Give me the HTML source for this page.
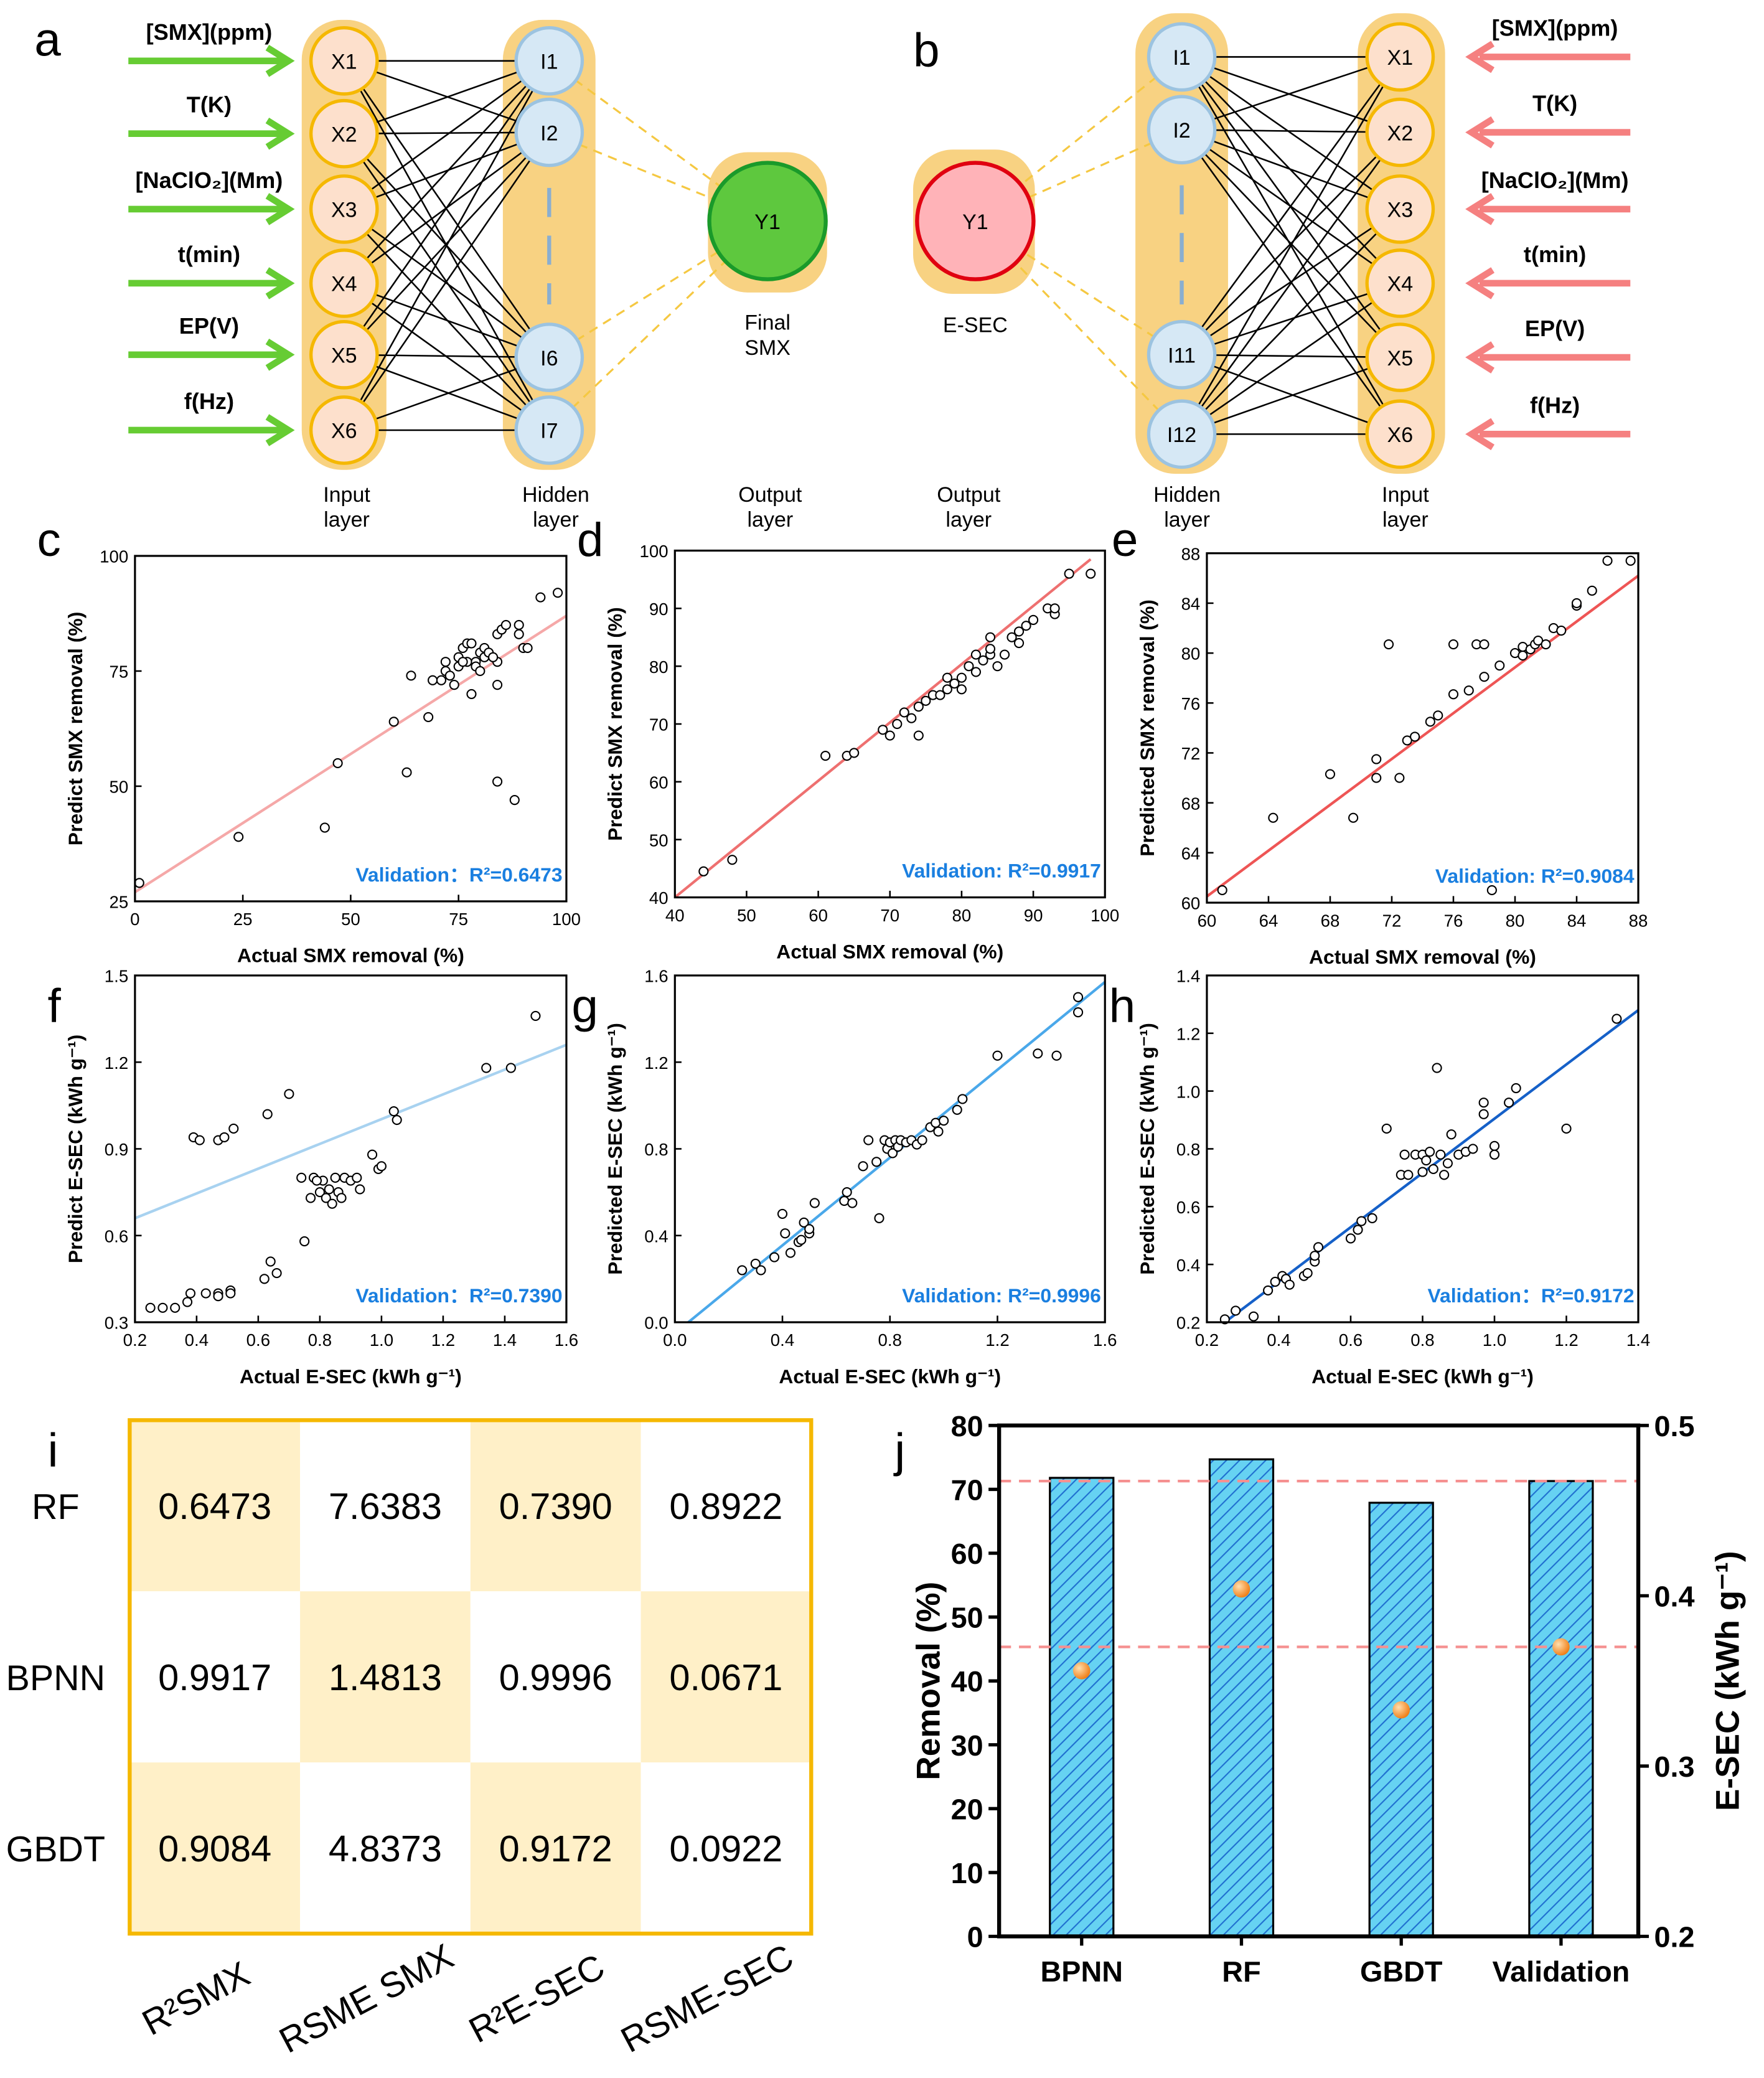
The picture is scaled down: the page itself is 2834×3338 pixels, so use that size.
<!DOCTYPE html>
<html><head><meta charset="utf-8"><style>
html,body{margin:0;padding:0;background:#fff}
svg{display:block}
text{font-family:"Liberation Sans",sans-serif}
</style></head><body>
<svg id="fig" xmlns="http://www.w3.org/2000/svg" width="2834" height="3338" viewBox="0 0 1333 1570" preserveAspectRatio="none">
<defs>
<pattern id="hatch" patternUnits="userSpaceOnUse" width="7" height="7" patternTransform="rotate(45)">
<rect width="7" height="7" fill="#66d2f2"/><line x1="0" y1="0" x2="0" y2="7" stroke="#1f6fd0" stroke-width="2"/>
</pattern>
<radialGradient id="dotg" cx="0.35" cy="0.35" r="0.7"><stop offset="0" stop-color="#ffe0b0"/><stop offset="1" stop-color="#f07a10"/></radialGradient>
</defs>
<g id="net"></g>
<g id="plots"></g>
<g id="table"></g>
<g id="barchart"></g>
</svg>
<script>
const NS="http://www.w3.org/2000/svg";
function mk(parent,tag,attrs,txt){const e=document.createElementNS(NS,tag);for(const k in attrs)e.setAttribute(k,attrs[k]);if(txt!==undefined)e.textContent=txt;parent.appendChild(e);return e;}
const net=document.getElementById('net');

/* ---------- Panels a & b ---------- */
const aInY=[46,101,158,214,268,325];
const aHidY=[46,100,270,325];
const aHidLbl=["I1","I2","I6","I7"];
const inputLabels=["[SMX](ppm)","T(K)","[NaClO₂](Mm)","t(min)","EP(V)","f(Hz)"];
const bInY=[43,100,158,214,270,328];
const bHidY=[43,98,268,328];
const bHidLbl=["I1","I2","I11","I12"];

function panelLetter(x,y,t){const e=mk(net,'text',{x:x,y:y,'font-size':36,fill:'#000'},t);}
panelLetter(26,42,'a');panelLetter(690,50,'b');

// panel a backgrounds
let r;
r=mk(net,'rect',{x:228,y:15,width:64,height:340,rx:30,fill:'#f8d282'});
r=mk(net,'rect',{x:380,y:15,width:70,height:340,rx:30,fill:'#f8d282'});
r=mk(net,'rect',{x:535,y:115,width:90,height:106,rx:30,fill:'#f8d282'});
aInY.forEach(y=>aHidY.forEach(h=>{const l=mk(net,'line',{x1:260,y1:y,x2:415,y2:h,stroke:'#000','stroke-width':1.2});}));
aHidY.forEach(h=>{const l=mk(net,'line',{x1:415,y1:h,x2:580,y2:167,stroke:'#f5c842','stroke-width':1.5,'stroke-dasharray':'7,5'});});
r=mk(net,'line',{x1:415,y1:142,x2:415,y2:230,stroke:'#8aaed0','stroke-width':3,'stroke-dasharray':'22,14'});
aInY.forEach((y,i)=>{
 const g=mk(net,'g',{});
 mk(g,'circle',{cx:260,cy:y,r:25,fill:'#fde0cc',stroke:'#f5b800','stroke-width':2.5});
 mk(g,'text',{x:260,y:y+6,'text-anchor':'middle','font-size':16},'X'+(i+1));
 const ar=mk(net,'g',{});
 mk(ar,'line',{x1:97,y1:y,x2:214,y2:y,stroke:'#66cc33','stroke-width':5});
 mk(ar,'polyline',{points:`202,${y-10} 218,${y} 202,${y+10}`,fill:'none',stroke:'#66cc33','stroke-width':5});
 const t=mk(net,'text',{x:158,y:y-16,'text-anchor':'middle','font-size':17,'font-weight':'bold','font-style':i==5?'normal':'normal'},inputLabels[i]);
});
aHidY.forEach((y,i)=>{const g=mk(net,'g',{});
 mk(g,'circle',{cx:415,cy:y,r:25,fill:'#d6e8f5',stroke:'#9cc3e0','stroke-width':2.5});
 mk(g,'text',{x:415,y:y+6,'text-anchor':'middle','font-size':16},aHidLbl[i]);});
r=mk(net,'g',{});
mk(r,'circle',{cx:580,cy:167,r:44,fill:'#5ec83e',stroke:'#1a9a2a','stroke-width':3});
mk(r,'text',{x:580,y:173,'text-anchor':'middle','font-size':16},'Y1');

// panel b backgrounds
r=mk(net,'rect',{x:690,y:113,width:92,height:109,rx:30,fill:'#f8d282'});
r=mk(net,'rect',{x:858,y:10,width:70,height:348,rx:30,fill:'#f8d282'});
r=mk(net,'rect',{x:1026,y:10,width:66,height:348,rx:30,fill:'#f8d282'});
bInY.forEach(y=>bHidY.forEach(h=>{const l=mk(net,'line',{x1:1058,y1:y,x2:893,y2:h,stroke:'#000','stroke-width':1.2});}));
bHidY.forEach(h=>{const l=mk(net,'line',{x1:893,y1:h,x2:737,y2:167,stroke:'#f5c842','stroke-width':1.5,'stroke-dasharray':'7,5'});});
r=mk(net,'line',{x1:893,y1:140,x2:893,y2:230,stroke:'#8aaed0','stroke-width':3,'stroke-dasharray':'22,14'});
bInY.forEach((y,i)=>{
 const g=mk(net,'g',{});
 mk(g,'circle',{cx:1058,cy:y,r:25,fill:'#fde0cc',stroke:'#f5b800','stroke-width':2.5});
 mk(g,'text',{x:1058,y:y+6,'text-anchor':'middle','font-size':16},'X'+(i+1));
 const ar=mk(net,'g',{});
 mk(ar,'line',{x1:1118,y1:y,x2:1232,y2:y,stroke:'#f58080','stroke-width':5});
 mk(ar,'polyline',{points:`1128,${y-10} 1112,${y} 1128,${y+10}`,fill:'none',stroke:'#f58080','stroke-width':5});
 const t=mk(net,'text',{x:1175,y:y-16,'text-anchor':'middle','font-size':17,'font-weight':'bold'},inputLabels[i]);
});
bHidY.forEach((y,i)=>{const g=mk(net,'g',{});
 mk(g,'circle',{cx:893,cy:y,r:25,fill:'#d6e8f5',stroke:'#9cc3e0','stroke-width':2.5});
 mk(g,'text',{x:893,y:y+6,'text-anchor':'middle','font-size':16},bHidLbl[i]);});
r=mk(net,'g',{});
mk(r,'circle',{cx:737,cy:167,r:44,fill:'#ffb3b8',stroke:'#e00010','stroke-width':3});
mk(r,'text',{x:737,y:173,'text-anchor':'middle','font-size':16},'Y1');

const layerLabels=[[262,'Input','layer'],[420,'Hidden','layer'],[582,'Output','layer'],[732,'Output','layer'],[897,'Hidden','layer'],[1062,'Input','layer']];
layerLabels.forEach((L,i)=>{const t=mk(net,'text',{x:L[0],y:379,'text-anchor':'middle','font-size':16});
 mk(t,'tspan',{x:L[0],dy:0},L[1]);mk(t,'tspan',{x:L[0],dy:19},L[2]);});
r=mk(net,'text',{x:580,y:249,'text-anchor':'middle','font-size':16});
mk(r,'tspan',{x:580,dy:0},'Final');mk(r,'tspan',{x:580,dy:19},'SMX');
r=mk(net,'text',{x:737,y:251,'text-anchor':'middle','font-size':16},'E-SEC');

/* ---------- Scatter panels c-h ---------- */
const cX=[1,24,44,47,60,63,64,68,69,71,72,72,73,74,75,75,76,77,77,78,78,79,79,80,80,81,81,82,84,84,84,85,86,84,88,89,89,90,91,94,98,76,83];
const cY=[29,39,41,55,64,53,74,65,73,73,75,77,74,72,76,78,80,77,81,81,70,77,76,79,75,80,78,79,72,77,83,84,85,51,47,83,85,80,80,91,92,77,78];
const dX=[44,48,61,64,65,69,70,71,72,73,74,74,75,76,77,78,78,79,80,80,81,82,82,83,84,84,84,85,86,87,88,88,89,90,92,93,93,95,98];
const dY=[44.5,46.5,64.5,64.5,65,69,68,70,72,71,68,73,74,75,75,76,78,77,78,76,80,82,79,81,82,83,85,80,82,85,84,86,87,88,90,89,90,96,96];
const eX=[61,64.3,68,69.5,71,71,71.8,72.5,73,73.5,74.5,75,76,76,77,77.5,78,78,78.5,79,80,80.5,80.5,81,81.3,81.5,82,82.5,83,84,84,85,86,87.5];
const eY=[61,66.8,70.3,66.8,71.5,70,80.7,70,73,73.3,74.5,75,76.7,80.7,77,80.7,80.7,78.1,61,79,80,80.5,79.8,80.3,80.7,81,80.7,82,81.8,83.8,84,85,87.4,87.4];
const fX=[0.25,0.29,0.33,0.37,0.38,0.43,0.47,0.47,0.51,0.51,0.39,0.41,0.47,0.49,0.52,0.63,0.7,0.62,0.64,0.66,0.75,0.74,0.77,0.78,0.8,0.81,0.82,0.83,0.84,0.85,0.86,0.87,0.88,0.9,0.92,0.93,0.97,0.99,1.0,1.04,1.05,1.34,1.42,1.5,0.79];
const fY=[0.35,0.35,0.35,0.37,0.40,0.40,0.40,0.39,0.41,0.40,0.94,0.93,0.93,0.94,0.97,1.02,1.09,0.45,0.51,0.47,0.58,0.80,0.73,0.80,0.75,0.79,0.73,0.76,0.71,0.80,0.75,0.73,0.80,0.79,0.80,0.76,0.88,0.83,0.84,1.03,1.0,1.18,1.18,1.36,0.79];
const gX=[0.25,0.3,0.32,0.37,0.4,0.41,0.43,0.46,0.47,0.48,0.5,0.5,0.52,0.63,0.64,0.66,0.7,0.72,0.75,0.76,0.78,0.79,0.8,0.81,0.82,0.83,0.84,0.86,0.88,0.9,0.92,0.95,0.97,0.98,1.0,1.05,1.07,1.2,1.35,1.42,1.5,1.5];
const gY=[0.24,0.27,0.24,0.3,0.5,0.41,0.32,0.37,0.38,0.46,0.41,0.43,0.55,0.56,0.6,0.55,0.72,0.84,0.74,0.48,0.84,0.8,0.83,0.78,0.84,0.81,0.84,0.83,0.84,0.82,0.84,0.9,0.92,0.88,0.93,0.98,1.03,1.23,1.24,1.23,1.43,1.5];
const hX=[0.25,0.28,0.33,0.37,0.39,0.41,0.42,0.43,0.47,0.48,0.5,0.51,0.5,0.6,0.62,0.63,0.66,0.7,0.74,0.75,0.76,0.78,0.8,0.8,0.81,0.82,0.83,0.84,0.85,0.86,0.87,0.88,0.9,0.92,0.94,0.97,0.97,1.0,1.0,1.04,1.06,1.2,1.34];
const hY=[0.21,0.24,0.22,0.31,0.34,0.36,0.35,0.33,0.36,0.37,0.41,0.46,0.43,0.49,0.52,0.55,0.56,0.87,0.71,0.78,0.71,0.78,0.72,0.78,0.76,0.79,0.73,1.08,0.78,0.71,0.75,0.85,0.78,0.79,0.8,0.92,0.96,0.81,0.78,0.96,1.01,0.87,1.25];
const xTicksC=[0,25,50,75,100], yTicksC=[25,50,75,100];
const xTicksD=[40,50,60,70,80,90,100], yTicksD=[40,50,60,70,80,90,100];
const xTicksE=[60,64,68,72,76,80,84,88], yTicksE=[60,64,68,72,76,80,84,88];
const xTicksF=[0.2,0.4,0.6,0.8,1.0,1.2,1.4,1.6], yTicksF=[0.3,0.6,0.9,1.2,1.5];
const xTicksG=[0.0,0.4,0.8,1.2,1.6], yTicksG=[0.0,0.4,0.8,1.2,1.6];
const xTicksH=[0.2,0.4,0.6,0.8,1.0,1.2,1.4], yTicksH=[0.2,0.4,0.6,0.8,1.0,1.2,1.4];
const fitC=[0,27,100,87], fitD=[40,40,98,98.5], fitE=[60,60.5,88,86.2];
const fitF=[0.2,0.66,1.6,1.26], fitG=[0.05,0,1.6,1.57], fitH=[0.25,0.2,1.4,1.28];
const r2Text=['Validation：R²=0.6473','Validation: R²=0.9917','Validation: R²=0.9084','Validation：R²=0.7390','Validation: R²=0.9996','Validation：R²=0.9172'];

const P=document.getElementById('plots');
const panels=[
 {id:'c',box:[102,420,428,681],xs:cX,ys:cY,xt:xTicksC,yt:yTicksC,fit:fitC,col:'#f5a8a8',xl:'Actual SMX removal (%)',yl:'Predict SMX removal (%)',r2:r2Text[0],dec:0,lp:[28,420]},
 {id:'d',box:[510,416,835,678],xs:dX,ys:dY,xt:xTicksD,yt:yTicksD,fit:fitD,col:'#ee7070',xl:'Actual SMX removal (%)',yl:'Predict SMX removal (%)',r2:r2Text[1],dec:0,lp:[436,420]},
 {id:'e',box:[912,418,1238,682],xs:eX,ys:eY,xt:xTicksE,yt:yTicksE,fit:fitE,col:'#ee5555',xl:'Actual SMX removal (%)',yl:'Predicted SMX removal (%)',r2:r2Text[2],dec:0,lp:[840,420]},
 {id:'f',box:[102,737,428,999],xs:fX,ys:fY,xt:xTicksF,yt:yTicksF,fit:fitF,col:'#a8d2f0',xl:'Actual E-SEC (kWh g⁻¹)',yl:'Predict E-SEC (kWh g⁻¹)',r2:r2Text[3],dec:1,lp:[36,772]},
 {id:'g',box:[510,737,835,999],xs:gX,ys:gY,xt:xTicksG,yt:yTicksG,fit:fitG,col:'#4aa8ea',xl:'Actual E-SEC (kWh g⁻¹)',yl:'Predicted E-SEC (kWh g⁻¹)',r2:r2Text[4],dec:1,lp:[432,772]},
 {id:'h',box:[912,737,1238,999],xs:hX,ys:hY,xt:xTicksH,yt:yTicksH,fit:fitH,col:'#1560c8',xl:'Actual E-SEC (kWh g⁻¹)',yl:'Predicted E-SEC (kWh g⁻¹)',r2:r2Text[5],dec:1,lp:[838,772]},
];
panels.forEach(p=>{
 const [x0,y0,x1,y1]=p.box;
 const xmin=p.xt[0],xmax=p.xt[p.xt.length-1],ymin=p.yt[0],ymax=p.yt[p.yt.length-1];
 const sx=v=>x0+(v-xmin)/(xmax-xmin)*(x1-x0);
 const sy=v=>y1-(v-ymin)/(ymax-ymin)*(y1-y0);
 const g=mk(P,'g',{});
 const lt=mk(g,'text',{x:p.lp[0],y:p.lp[1],'font-size':36},p.id);
 const fl=mk(g,'line',{x1:sx(p.fit[0]),y1:sy(p.fit[1]),x2:sx(p.fit[2]),y2:sy(p.fit[3]),stroke:p.col,'stroke-width':2});
 p.xs.forEach((v,i)=>{const c=mk(g,'circle',{cx:sx(v),cy:sy(p.ys[i]),r:3.3,fill:'#fff',stroke:'#000','stroke-width':1});});
 const fr=mk(g,'rect',{x:x0,y:y0,width:x1-x0,height:y1-y0,fill:'none',stroke:'#000','stroke-width':1.5});
 p.xt.forEach(v=>{mk(g,'line',{x1:sx(v),y1:y1,x2:sx(v),y2:y1-5,stroke:'#000','stroke-width':1.2});
  const t=mk(g,'text',{x:sx(v),y:y1+18,'text-anchor':'middle','font-size':13},p.dec?v.toFixed(1):v);});
 p.yt.forEach(v=>{mk(g,'line',{x1:x0,y1:sy(v),x2:x0+5,y2:sy(v),stroke:'#000','stroke-width':1.2});
  const t=mk(g,'text',{x:x0-5,y:sy(v)+5,'text-anchor':'end','font-size':13},p.dec?v.toFixed(1):v);});
 const xl=mk(g,'text',{x:(x0+x1)/2,y:y1+46,'text-anchor':'middle','font-size':15,'font-weight':'bold'},p.xl);
 const yl=mk(g,'text',{x:0,y:0,'text-anchor':'middle','font-size':15,'font-weight':'bold',transform:`translate(${x0-40},${(y0+y1)/2}) rotate(-90)`},p.yl);
 const rt=mk(g,'text',{x:x1-3,y:y1-15,'text-anchor':'end','font-size':15,'font-weight':'bold',fill:'#1a7fe0'},p.r2);
});

/* ---------- Panel i table ---------- */
const T=document.getElementById('table');
const rowNames=['RF','BPNN','GBDT'];
const colNames=['R²SMX','RSME SMX','R²E-SEC','RSME-SEC'];
const tableVals=[['0.6473','7.6383','0.7390','0.8922'],['0.9917','1.4813','0.9996','0.0671'],['0.9084','4.8373','0.9172','0.0922']];
r=mk(T,'text',{x:36,y:1108,'font-size':36},'i');
const tx0=98,ty0=1073,cw=128.75,rh=129.3;
tableVals.forEach((row,ri)=>row.forEach((v,ci)=>{
 const cell=mk(T,'g',{});
 mk(cell,'rect',{x:tx0+ci*cw,y:ty0+ri*rh,width:cw,height:rh,fill:((ri+ci)%2==0)?'#fff0c8':'#fff'});
 mk(cell,'text',{x:tx0+ci*cw+cw/2,y:ty0+ri*rh+rh/2+10,'text-anchor':'middle','font-size':28},v);
}));
r=mk(T,'rect',{x:tx0,y:ty0,width:cw*4,height:rh*3,fill:'none',stroke:'#f5b800','stroke-width':3});
rowNames.forEach((n,i)=>{const t=mk(T,'text',{x:42,y:ty0+i*rh+rh/2+10,'text-anchor':'middle','font-size':27},n);});
colNames.forEach((n,i)=>{const cx=tx0+i*cw+cw/2-10;const t=mk(T,'text',{x:0,y:0,'text-anchor':'middle','font-size':27,transform:`translate(${cx},${1518}) rotate(-28)`},n);});

/* ---------- Panel j bar chart ---------- */
const B=document.getElementById('barchart');
const models=['BPNN','RF','GBDT','Validation'];
const removal=[71.8,74.7,67.9,71.3];
const esec=[0.356,0.404,0.333,0.370];
const leftTicks=[0,10,20,30,40,50,60,70,80];
const rightTicks=[0.2,0.3,0.4,0.5];
const refRemoval=71.3, refEsec=0.370;
const jx0=755,jy0=1077,jx1=1238,jy1=1463;
const ly=v=>jy1-(v-0)/(80-0)*(jy1-jy0);
const ry=v=>jy1-(v-0.2)/(0.5-0.2)*(jy1-jy0);
const bx=i=>jx0+(i+0.5)*(jx1-jx0)/models.length+2;
r=mk(B,'text',{x:676,y:1108,'font-size':36},'j');
removal.forEach((v,i)=>{const b=mk(B,'rect',{x:bx(i)-24,y:ly(v),width:48,height:jy1-ly(v),fill:'url(#hatch)',stroke:'#000','stroke-width':1.5});});
r=mk(B,'line',{x1:jx0,y1:ly(refRemoval),x2:jx1,y2:ly(refRemoval),stroke:'#f59090','stroke-width':2,'stroke-dasharray':'9,6'});
r=mk(B,'line',{x1:jx0,y1:ry(refEsec),x2:jx1,y2:ry(refEsec),stroke:'#f59090','stroke-width':2,'stroke-dasharray':'9,6'});
esec.forEach((v,i)=>{const c=mk(B,'circle',{cx:bx(i),cy:ry(v),r:6.5,fill:'url(#dotg)'});});
r=mk(B,'rect',{x:jx0,y:jy0,width:jx1-jx0,height:jy1-jy0,fill:'none',stroke:'#000','stroke-width':3});
leftTicks.forEach(v=>{mk(B,'line',{x1:jx0,y1:ly(v),x2:jx0-8,y2:ly(v),stroke:'#000','stroke-width':2.5});
 const t=mk(B,'text',{x:jx0-12,y:ly(v)+8,'text-anchor':'end','font-size':22,'font-weight':'bold'},v);});
rightTicks.forEach(v=>{mk(B,'line',{x1:jx1,y1:ry(v),x2:jx1+8,y2:ry(v),stroke:'#000','stroke-width':2.5});
 const t=mk(B,'text',{x:jx1+12,y:ry(v)+8,'font-size':22,'font-weight':'bold'},v.toFixed(1));});
models.forEach((m,i)=>{mk(B,'line',{x1:bx(i),y1:jy1,x2:bx(i),y2:jy1+7,stroke:'#000','stroke-width':2.5});
 const t=mk(B,'text',{x:bx(i),y:jy1+34,'text-anchor':'middle','font-size':22,'font-weight':'bold'},m);});
r=mk(B,'text',{x:0,y:0,'text-anchor':'middle','font-size':25,'font-weight':'bold',transform:`translate(710,${(jy0+jy1)/2}) rotate(-90)`},'Removal (%)');
r=mk(B,'text',{x:0,y:0,'text-anchor':'middle','font-size':25,'font-weight':'bold',transform:`translate(1314,${(jy0+jy1)/2}) rotate(-90)`},'E-SEC (kWh g⁻¹)');
</script>
</body></html>
